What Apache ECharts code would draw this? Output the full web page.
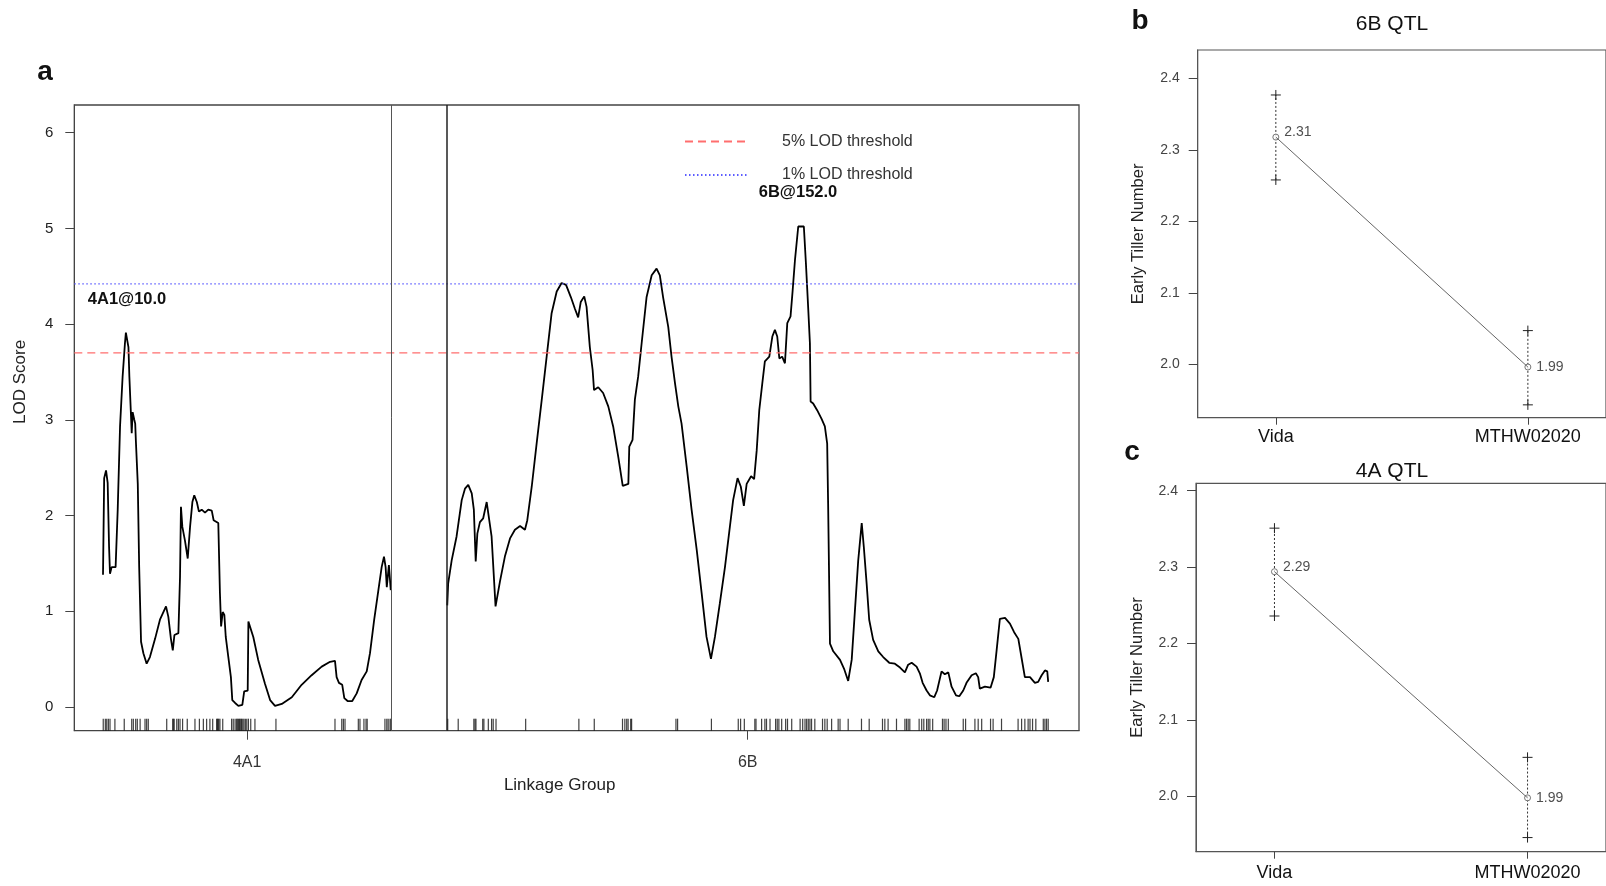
<!DOCTYPE html>
<html lang="en">
<head>
<meta charset="UTF-8">
<title>Early tiller number QTL</title>
<script src="https://cdn.jsdelivr.net/npm/echarts@6/dist/echarts.min.js"></script>
<style>
  html, body { margin: 0; padding: 0; background: #fff; }
  #main { width: 1606px; height: 886px; }
</style>
</head>
<body>
<div id="main"></div>
<script>
// LOD profile for each linkage group, [cM, LOD]
var lod4A1 = [[0.0,1.38],[0.5,2.39],[1.3,2.47],[2.0,2.34],[2.6,1.67],[3.0,1.39],[3.7,1.46],[5.4,1.46],[6.3,2.06],
  [7.3,2.93],[8.4,3.45],[9.4,3.80],[9.8,3.91],[10.6,3.91],[10.9,3.76],[11.3,3.45],[11.9,3.10],[12.3,2.86],[12.7,3.08],
  [13.4,3.00],[13.8,2.96],[14.1,2.77],[14.9,2.33],[15.5,1.46],[16.3,0.68],[17.3,0.56],[18.7,0.45],[20.1,0.52],
  [22.3,0.71],[24.4,0.91],[27.0,1.05],[28.0,0.94],[29.1,0.71],[29.9,0.59],[30.6,0.75],[32.3,0.77],[33.0,1.36],
  [33.4,2.09],[34.0,1.88],[35.1,1.74],[36.3,1.55],[37.3,1.88],[38.3,2.14],[39.1,2.21],[40.2,2.14],[41.1,2.04],
  [42.3,2.06],[43.7,2.03],[45.1,2.06],[46.6,2.05],[47.4,1.95],[49.4,1.92],[50.1,1.19],[50.6,0.84],[51.3,0.99],
  [52.0,0.96],[52.6,0.73],[53.7,0.52],[54.8,0.31],[55.4,0.07],[56.6,0.04],[58.0,0.01],[59.7,0.02],[60.5,0.16],
  [62.0,0.17],[62.3,0.89],[63.0,0.89],[64.4,0.73],[66.5,0.49],[69.4,0.24],[71.6,0.07],[73.7,0.01],[76.6,0.03],
  [80.9,0.10],[85.1,0.23],[89.4,0.33],[93.7,0.42],[97.3,0.47],[99.4,0.48],[100.1,0.31],[101.1,0.25],[102.5,0.23],
  [103.4,0.09],[104.8,0.06],[106.8,0.06],[108.7,0.14],[110.8,0.28],[113.0,0.37],[114.4,0.56],[116.2,0.91],
  [118.0,1.22],[119.4,1.46],[120.4,1.57],[121.1,1.46],[121.6,1.25],[122.2,1.25],[122.5,1.48],[123.1,1.48],[123.3,1.22]];

var lod6B = [[0.0,1.06],[0.4,1.29],[1.9,1.53],[4.0,1.78],[6.2,2.16],[7.6,2.28],[9.0,2.32],[10.5,2.23],[11.4,2.06],
  [12.2,1.52],[12.9,1.81],[14.0,1.93],[15.4,1.97],[16.9,2.14],[17.6,2.13],[19.0,1.78],[20.7,1.05],[22.6,1.31],
  [24.7,1.57],[26.9,1.76],[29.0,1.85],[31.2,1.89],[33.3,1.85],[34.3,1.95],[36.2,2.30],[38.3,2.75],[40.5,3.21],
  [42.6,3.66],[44.7,4.11],[46.9,4.34],[49.0,4.43],[50.9,4.41],[53.0,4.28],[54.7,4.16],[56.1,4.07],[57.2,4.23],
  [58.7,4.29],[59.7,4.18],[61.1,3.76],[62.3,3.52],[62.9,3.31],[64.7,3.34],[66.8,3.28],[69.0,3.14],[71.1,2.93],
  [73.3,2.61],[75.2,2.31],[77.6,2.33],[78.0,2.72],[79.4,2.79],[80.4,3.21],[81.8,3.45],[83.3,3.80],[85.4,4.28],
  [87.6,4.51],[89.7,4.58],[91.1,4.51],[92.5,4.28],[94.7,3.97],[96.1,3.66],[97.6,3.38],[99.0,3.14],[100.4,2.96],
  [102.6,2.51],[104.7,2.06],[106.9,1.64],[109.0,1.19],[111.1,0.73],[113.0,0.50],[114.7,0.73],[116.8,1.08],
  [119.0,1.46],[121.1,1.88],[122.5,2.16],[124.4,2.39],[125.8,2.30],[127.1,2.10],[128.3,2.33],[130.2,2.41],
  [131.5,2.38],[132.6,2.68],[133.7,3.10],[135.0,3.38],[136.1,3.61],[138.0,3.66],[139.3,3.87],[140.4,3.94],
  [141.4,3.87],[142.3,3.64],[143.5,3.66],[144.7,3.59],[145.7,4.01],[147.1,4.08],[148.0,4.35],[149.0,4.67],
  [150.4,5.02],[152.8,5.02],[153.7,4.63],[154.7,4.15],[155.4,3.80],[155.7,3.19],[156.8,3.17],[158.5,3.10],
  [160.4,3.01],[161.8,2.93],[162.8,2.75],[163.2,2.13],[164.0,0.66],[165.4,0.58],[168.3,0.49],[170.0,0.40],
  [171.8,0.27],[173.3,0.49],[174.7,1.01],[176.1,1.53],[177.6,1.92],[178.5,1.67],[179.7,1.29],[180.8,0.91],
  [182.5,0.70],[184.7,0.58],[186.8,0.52],[189.4,0.46],[191.8,0.45],[194.0,0.41],[196.1,0.36],[197.5,0.44],
  [199.0,0.46],[201.1,0.42],[202.5,0.35],[203.7,0.25],[205.4,0.17],[206.8,0.12],[208.7,0.10],[209.9,0.17],
  [211.8,0.37],[213.2,0.34],[214.7,0.36],[216.1,0.21],[218.0,0.12],[219.4,0.11],[221.1,0.17],[222.5,0.25],
  [224.7,0.33],[226.5,0.35],[227.5,0.31],[228.2,0.19],[230.4,0.21],[232.8,0.20],[234.2,0.31],[235.4,0.59],
  [236.8,0.92],[239.0,0.93],[241.1,0.87],[242.9,0.78],[244.7,0.71],[246.1,0.51],[247.5,0.31],[249.7,0.31],
  [251.8,0.25],[253.2,0.26],[254.7,0.33],[256.1,0.38],[257.1,0.37],[257.5,0.26]];

// marker positions (cM) drawn as the rug
var markers4A1 = [0.1,1.0,1.6,2.3,3.0,5.1,9.1,12.3,13.0,14.0,14.7,15.9,18.0,18.7,19.4,27.3,29.9,30.1,30.5,31.6,
  32.3,33.0,34.1,36.1,39.4,41.3,43.0,44.4,45.8,47.0,48.7,49.0,49.3,49.6,50.1,51.3,55.1,55.8,56.6,57.3,57.5,58.0,
  58.4,58.7,59.1,59.4,59.9,60.4,61.0,61.6,62.3,63.3,65.1,74.1,99.4,102.3,103.0,103.7,109.4,110.1,111.8,112.7,
  113.2,120.8,121.6,122.2,123.0,123.4];
var markers6B = [0.2,4.7,11.4,11.9,12.3,15.2,15.7,17.6,19.0,19.7,20.9,33.6,56.4,63.0,75.1,76.1,76.9,77.5,78.6,
  79.0,98.0,98.7,113.2,124.7,125.7,127.3,131.8,132.3,134.7,136.1,136.8,138.3,140.7,141.4,142.1,143.3,145.0,145.8,
  147.6,151.2,152.3,153.3,154.0,154.7,155.4,156.1,157.5,160.8,161.8,162.8,164.7,167.5,168.3,171.8,177.5,180.8,
  186.5,187.5,188.9,192.5,196.1,196.8,197.5,198.2,202.2,203.3,204.2,205.4,206.1,206.8,208.0,212.2,212.9,213.7,
  214.7,221.1,222.1,226.1,227.5,229.0,232.8,233.9,237.5,244.6,246.1,247.5,248.9,249.7,250.8,252.2,255.4,256.1,
  256.8,257.5];

var chrNames = ['4A1', '6B'];
var chrLengths = [123.5, 257.5];
var chrGap = 24;
var thresholds = [3.70, 4.42];           // 5%, 1%
var thresholdNames = ['5% LOD threshold', '1% LOD threshold'];
var peakLabels = ['4A1@10.0', '6B@152.0'];
var peakLabelPos = [10.3, 150.3];
var peakLabelLod = [4.26, 5.38];
var lodTicks = [0, 1, 2, 3, 4, 5, 6];

// allele effect plots
var genotypes = ['Vida', 'MTHW02020'];
var mean6B = [2.318, 1.996];
var low6B = [2.258, 1.943];
var high6B = [2.377, 2.047];
var label6B = ['2.31', '1.99'];
var mean4A = [2.294, 1.998];
var low4A = [2.236, 1.946];
var high4A = [2.351, 2.051];
var label4A = ['2.29', '1.99'];
var effectTicks = [2.0, 2.1, 2.2, 2.3, 2.4];

var FONT = '"Liberation Sans", Arial, sans-serif';
var off6B = chrLengths[0] + chrGap;
var chrMids = [chrLengths[0] / 2, off6B + chrLengths[1] / 2];
var xMin = -12.3, xMax = 418.2;
var rugY = -0.187;

var rug = markers4A1.map(function (m) { return [m, rugY]; })
  .concat(markers6B.map(function (m) { return [m + off6B, rugY]; }));

function errorBar(params, api) {
  var x = api.value(0);
  var pLo = api.coord([x, api.value(1)]);
  var pHi = api.coord([x, api.value(2)]);
  var h = 5;
  var cross = function (p) {
    return [
      { type: 'line', shape: { x1: p[0] - h, y1: p[1], x2: p[0] + h, y2: p[1] }, style: { stroke: '#222', lineWidth: 1 } },
      { type: 'line', shape: { x1: p[0], y1: p[1] - h, x2: p[0], y2: p[1] + h }, style: { stroke: '#222', lineWidth: 1 } }
    ];
  };
  return {
    type: 'group',
    children: [
      { type: 'line', shape: { x1: pLo[0], y1: pLo[1], x2: pHi[0], y2: pHi[1] },
        style: { stroke: '#333', lineWidth: 1, lineDash: [2, 2] } }
    ].concat(cross(pLo), cross(pHi))
  };
}

function effectSeries(idx, means, lows, highs, labels) {
  return [
    {
      type: 'line', xAxisIndex: idx, yAxisIndex: idx, silent: true, symbol: 'none',
      lineStyle: { color: '#666', width: 1 },
      data: means.map(function (m, i) { return [i + 1, m]; })
    },
    {
      type: 'custom', xAxisIndex: idx, yAxisIndex: idx, silent: true,
      renderItem: errorBar,
      data: lows.map(function (l, i) { return [i + 1, l, highs[i]]; })
    },
    {
      type: 'scatter', xAxisIndex: idx, yAxisIndex: idx, silent: true,
      symbol: 'circle', symbolSize: 6,
      itemStyle: { color: '#fff', borderColor: '#555', borderWidth: 1 },
      label: {
        show: true, position: 'right', distance: 5, fontSize: 14, color: '#222', fontFamily: FONT,
        formatter: function (p) { return labels[p.dataIndex]; }
      },
      data: means.map(function (m, i) {
        return { value: [i + 1, m], label: { offset: [0, i === 0 ? -5 : 0] } };
      })
    }
  ];
}

function effectAxes(idx, yMin, yMax, nameGap, labelMargin) {
  return {
    x: {
      gridIndex: idx, type: 'value', min: 0.69, max: 2.31,
      axisLine: { show: true, onZero: false, lineStyle: { color: '#555' } },
      splitLine: { show: false },
      axisTick: { customValues: [1, 2], length: 7, lineStyle: { color: '#444' } },
      axisLabel: {
        customValues: [1, 2], margin: labelMargin, fontSize: 18, color: '#111', fontFamily: FONT,
        formatter: function (v) { return genotypes[Math.round(v) - 1]; }
      }
    },
    y: {
      gridIndex: idx, type: 'value', min: yMin, max: yMax,
      name: 'Early Tiller Number', nameLocation: 'middle', nameGap: nameGap,
      nameTextStyle: { fontSize: 16.5, color: '#222', fontFamily: FONT },
      axisLine: { show: true, onZero: false, lineStyle: { color: '#555' } },
      splitLine: { show: false },
      axisTick: { customValues: effectTicks, length: 9, lineStyle: { color: '#444' } },
      axisLabel: {
        customValues: effectTicks, margin: 18, fontSize: 14, color: '#444', fontFamily: FONT,
        formatter: function (v) { return v.toFixed(1); }
      }
    }
  };
}

var axB = effectAxes(1, 1.925, 2.44, 51, 10);
var axC = effectAxes(2, 1.9275, 2.4097, 50, 12);

var chart = echarts.init(document.getElementById('main'));
var option = {
  animation: false,
  backgroundColor: '#fff',
  textStyle: { fontFamily: FONT },
  grid: [
    { left: 74.3, top: 105, right: 527, bottom: 155.3, show: true, borderColor: '#444', borderWidth: 1.3 },
    { left: 1197.7, top: 50, right: -12, bottom: 468.3, show: true, borderColor: '#555', borderWidth: 1.2 },
    { left: 1196, top: 483.3, right: -10, bottom: 34.3, show: true, borderColor: '#555', borderWidth: 1.2 }
  ],
  legend: {
    data: thresholdNames,
    orient: 'vertical', left: 679, top: 128.5,
    itemWidth: 62, itemHeight: 20, itemGap: 17.5,
    selectedMode: false,
    itemStyle: { color: 'rgba(0,0,0,0)', borderWidth: 0, opacity: 0 },
    textStyle: { fontSize: 16, color: '#333', fontFamily: FONT, padding: [0, 0, 0, 30] }
  },
  xAxis: [
    {
      gridIndex: 0, type: 'value', min: xMin, max: xMax,
      name: 'Linkage Group', nameLocation: 'middle', nameGap: 46,
      nameTextStyle: { fontSize: 17, color: '#222', fontFamily: FONT, padding: [0, 34, 0, 0] },
      axisLine: { show: true, onZero: false, lineStyle: { color: '#444' } },
      splitLine: { show: false },
      axisTick: { customValues: chrMids, length: 9, lineStyle: { color: '#444' } },
      axisLabel: {
        customValues: chrMids, margin: 24, fontSize: 16, color: '#333', fontFamily: FONT,
        formatter: function (v) { return Math.abs(v - chrMids[0]) < 1 ? chrNames[0] : chrNames[1]; }
      }
    },
    axB.x, axC.x
  ],
  yAxis: [
    {
      gridIndex: 0, type: 'value', min: -0.25, max: 6.29,
      name: 'LOD Score', nameLocation: 'middle', nameGap: 45,
      nameTextStyle: { fontSize: 17, color: '#222', fontFamily: FONT, padding: [0, 0, 0, 72] },
      axisLine: { show: true, onZero: false, lineStyle: { color: '#444' } },
      splitLine: { show: false },
      axisTick: { customValues: lodTicks, length: 9, lineStyle: { color: '#444' } },
      axisLabel: { customValues: lodTicks, margin: 21, fontSize: 15, color: '#222', fontFamily: FONT }
    },
    axB.y, axC.y
  ],
  series: [
    {
      name: '4A1', type: 'line', xAxisIndex: 0, yAxisIndex: 0, silent: true,
      symbol: 'none', lineStyle: { color: '#000', width: 1.8 },
      data: lod4A1,
      markLine: {
        silent: true, symbol: 'none', label: { show: false },
        data: [
          { xAxis: chrLengths[0], lineStyle: { color: '#555', width: 1, type: 'solid' } },
          { xAxis: off6B, lineStyle: { color: '#222', width: 1.5, type: 'solid' } }
        ]
      },
      markPoint: {
        symbol: 'rect', symbolSize: 1, itemStyle: { color: 'transparent' },
        label: { show: true, position: 'inside', formatter: '{b}', fontSize: 16.5, fontWeight: 'bold', color: '#111', fontFamily: FONT },
        data: [{ name: peakLabels[0], coord: [peakLabelPos[0], peakLabelLod[0]] }]
      }
    },
    {
      name: '6B', type: 'line', xAxisIndex: 0, yAxisIndex: 0, silent: true,
      symbol: 'none', lineStyle: { color: '#000', width: 1.8 },
      data: lod6B.map(function (p) { return [p[0] + off6B, p[1]]; }),
      markPoint: {
        symbol: 'rect', symbolSize: 1, itemStyle: { color: 'transparent' },
        label: { show: true, position: 'inside', formatter: '{b}', fontSize: 16.5, fontWeight: 'bold', color: '#111', fontFamily: FONT },
        data: [{ name: peakLabels[1], coord: [peakLabelPos[1] + off6B, peakLabelLod[1]] }]
      }
    },
    {
      name: thresholdNames[0], type: 'line', xAxisIndex: 0, yAxisIndex: 0, silent: true, symbol: 'none',
      itemStyle: { color: '#ff6e6e' },
      lineStyle: { color: '#ff6e6e', width: 1.2, type: [8, 5] },
      data: [[xMin, thresholds[0]], [xMax, thresholds[0]]]
    },
    {
      name: thresholdNames[1], type: 'line', xAxisIndex: 0, yAxisIndex: 0, silent: true, symbol: 'none',
      itemStyle: { color: '#5c5cff' },
      lineStyle: { color: '#5c5cff', width: 1.2, type: [1.5, 2.5] },
      data: [[xMin, thresholds[1]], [xMax, thresholds[1]]]
    },
    {
      name: 'markers', type: 'scatter', xAxisIndex: 0, yAxisIndex: 0, silent: true,
      symbol: 'rect', symbolSize: [1.2, 12], itemStyle: { color: '#111' },
      data: rug
    }
  ].concat(
    effectSeries(1, mean6B, low6B, high6B, label6B),
    effectSeries(2, mean4A, low4A, high4A, label4A)
  ),
  graphic: [
    { type: 'text', x: 45, y: 72, style: { text: 'a', font: 'bold 28px ' + FONT, fill: '#111', align: 'center', verticalAlign: 'middle' } },
    { type: 'text', x: 1140, y: 21, style: { text: 'b', font: 'bold 28px ' + FONT, fill: '#111', align: 'center', verticalAlign: 'middle' } },
    { type: 'text', x: 1132, y: 452, style: { text: 'c', font: 'bold 28px ' + FONT, fill: '#111', align: 'center', verticalAlign: 'middle' } },
    { type: 'text', x: 1392, y: 24, style: { text: '6B QTL', font: '21px ' + FONT, fill: '#111', align: 'center', verticalAlign: 'middle' } },
    { type: 'text', x: 1392, y: 471, style: { text: '4A QTL', font: '21px ' + FONT, fill: '#111', align: 'center', verticalAlign: 'middle' } }
  ]
};
chart.setOption(option);
</script>
</body>
</html>
